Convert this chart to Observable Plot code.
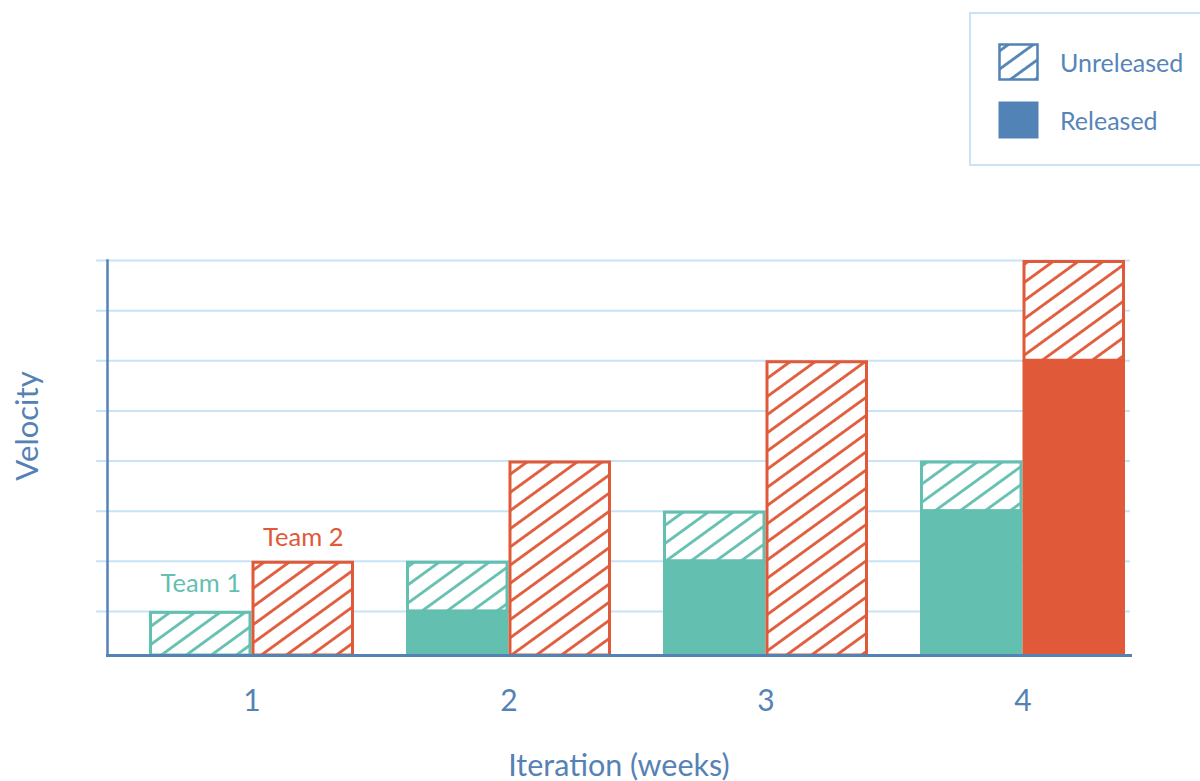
<!DOCTYPE html>
<html>
<head>
<meta charset="utf-8">
<script src="https://cdn.jsdelivr.net/npm/d3@7"></script>
<script src="https://cdn.jsdelivr.net/npm/@observablehq/plot@0.6"></script>
<style>
  html, body { margin: 0; padding: 0; background: #fff; }
  #wrap { position: relative; width: 1200px; height: 781px; overflow: hidden; font-family: Lato, "Open Sans", sans-serif; }
  #legend { position: absolute; left: 969px; top: 12px; width: 260px; height: 154px; border: 2px solid #c8e3f5; box-sizing: border-box; }
  .item { position: absolute; left: 27px; display: flex; align-items: center; }
  .item span { margin-left: 20px; font-size: 25px; color: #5685b8; }
</style>
</head>
<body>
<div id="wrap">
  <div id="chart"></div>
  <div id="legend">
    <div class="item" style="top:29px"><svg width="42" height="38"><rect x="1.5" y="1.5" width="38" height="35" fill="url(#hatch-blue)" stroke="#5283b6" stroke-width="2.5"/></svg><span>Unreleased</span></div>
    <div class="item" style="top:87px"><svg width="42" height="38"><rect x="0.5" y="0.5" width="40" height="37" fill="#5283b6"/></svg><span>Released</span></div>
  </div>
</div>
<script>
// ---- data ----
const iterations = [1, 2, 3, 4];
const teams = ["Team 1", "Team 2"];
const team1Released = [0, 1, 2, 3];
const team1Total = [1, 2, 3, 4];
const team2Released = [0, 0, 0, 6];
const team2Total = [2, 4, 6, 8];
const yTicks = [1, 2, 3, 4, 5, 6, 7, 8];

// ---- style ----
const teal = "#63bfaf";
const red = "#e05a39";
const legendBlue = "#5283b6";
const axisBlue = "#5582b5";
const gridBlue = "#c8e3f5";

const rows = (rel, tot, team) => iterations.map((it, i) => ({iteration: it, team, released: rel[i], total: tot[i]}));
const t1 = rows(team1Released, team1Total, teams[0]);
const t2 = rows(team2Released, team2Total, teams[1]);

const xOpts = {type: "band", domain: iterations, paddingInner: 0.203, paddingOuter: 0.0894, align: 0.89, axis: null};
const layout = {width: 1200, height: 781, marginLeft: 107, marginRight: 70, marginTop: 260, marginBottom: 126};

const probe = Plot.plot({...layout, x: xOpts, marks: [Plot.frame()]});
const bw = probe.scale("x").bandwidth;
const half = bw / 2;

function defs() {
  const d = d3.create("svg:defs");
  const mk = (id, color) => {
    const s = 14.7;
    const p = d.append("pattern").attr("id", id).attr("patternUnits", "userSpaceOnUse")
      .attr("width", s).attr("height", s).attr("patternTransform", "rotate(54)");
    p.append("rect").attr("width", s).attr("height", s).attr("fill", "#fff");
    p.append("line").attr("x1", s / 2).attr("x2", s / 2).attr("y1", -1).attr("y2", s + 1)
      .attr("stroke", color).attr("stroke-width", 2.8);
  };
  mk("hatch-teal", teal);
  mk("hatch-red", red);
  mk("hatch-blue", legendBlue);
  return d.node();
}

const sw = 3;
const chart = Plot.plot({
  ...layout,
  x: xOpts,
  y: {domain: [0.12, 8], clamp: true, axis: null},
  style: {fontFamily: "Lato, 'Open Sans', sans-serif", color: axisBlue, background: "transparent"},
  marks: [
    defs,
    Plot.ruleY(yTicks, {stroke: gridBlue, strokeWidth: 2, insetLeft: -11}),
    // team 1
    Plot.rectY(t1, {x: "iteration", y1: "released", y2: "total", fill: "url(#hatch-teal)", stroke: teal, strokeWidth: sw,
      insetLeft: sw / 2, insetRight: half + sw / 2, insetTop: sw / 2}),
    Plot.rectY(t1.filter(d => d.released > 0), {x: "iteration", y1: 0, y2: "released", fill: teal, insetRight: half}),
    // team 2
    Plot.rectY(t2, {x: "iteration", y1: "released", y2: "total", fill: "url(#hatch-red)", stroke: red, strokeWidth: sw,
      insetLeft: half + sw / 2, insetRight: sw / 2, insetTop: sw / 2}),
    Plot.rectY(t2.filter(d => d.released > 0), {x: "iteration", y1: 0, y2: "released", fill: red, insetLeft: half}),
    // team labels
    Plot.text(t1.filter(d => d.iteration === 1), {x: "iteration", y: "total", text: "team", fill: teal, fontSize: 25.5,
      dx: -half / 2, dy: -19, lineAnchor: "bottom"}),
    Plot.text(t2.filter(d => d.iteration === 1), {x: "iteration", y: "total", text: "team", fill: red, fontSize: 25.5,
      dx: half / 2, dy: -15, lineAnchor: "bottom"}),
    Plot.frame({anchor: "left", stroke: axisBlue, strokeWidth: 2.5}),
    Plot.frame({anchor: "bottom", stroke: axisBlue, strokeWidth: 3}),
    Plot.axisX({tickSize: 0, tickPadding: 34, fontSize: 30, label: null}),
    Plot.text(["Iteration (weeks)"], {frameAnchor: "bottom", lineAnchor: "bottom", dy: 120, fontSize: 30.5, fill: axisBlue}),
    Plot.text(["Velocity"], {frameAnchor: "left", textAnchor: "middle", rotate: -90, dx: -79, dy: -32, fontSize: 31, fill: axisBlue})
  ]
});
document.getElementById("chart").appendChild(chart);
</script>
</body>
</html>
